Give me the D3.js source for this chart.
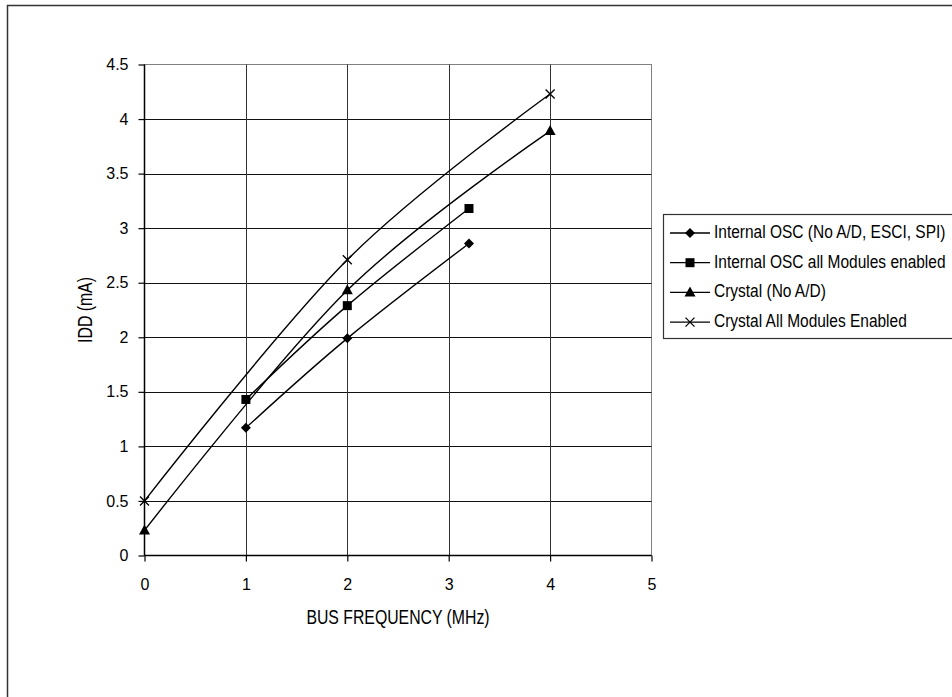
<!DOCTYPE html>
<html><head><meta charset="utf-8">
<script src="https://cdn.jsdelivr.net/npm/d3@7"></script>
<style>body{margin:0;background:#fff}svg{display:block}text{font-family:"Liberation Sans",Arial,sans-serif;fill:#000}</style>
</head><body><svg id="c" width="952" height="697"></svg>
<script>
const seriesNames = ["Internal OSC (No A/D, ESCI, SPI)", "Internal OSC all Modules enabled", "Crystal (No A/D)", "Crystal All Modules Enabled"];
const markers = ["diamond", "square", "triangle", "x"];
const xInternal = [1, 2, 3.2];
const xCrystal = [0, 2, 4];
const internalNoAD = [1.17, 1.99, 2.86];
const internalAll = [1.43, 2.29, 3.18];
const crystalNoAD = [0.23, 2.43, 3.89];
const crystalAll = [0.5, 2.71, 4.23];
const xTicks = [0, 1, 2, 3, 4, 5];
const yTicks = [0, 0.5, 1, 1.5, 2, 2.5, 3, 3.5, 4, 4.5];
const xTitle = "BUS FREQUENCY (MHz)";
const yTitle = "IDD (mA)";

const series = [
  {name: seriesNames[0], marker: markers[0], xs: xInternal, ys: internalNoAD},
  {name: seriesNames[1], marker: markers[1], xs: xInternal, ys: internalAll},
  {name: seriesNames[2], marker: markers[2], xs: xCrystal, ys: crystalNoAD},
  {name: seriesNames[3], marker: markers[3], xs: xCrystal, ys: crystalAll}
];
const SQ = 0.82; // horizontal condensing of the narrow font

const svg = d3.select("#c");
svg.append("rect").attr("x", 7.5).attr("y", 5.5).attr("width", 1000).attr("height", 800)
  .attr("fill", "none").attr("stroke", "#333").attr("stroke-width", 1.5);

const L = 144.5, R = 651.5, T = 64.5, B = 555.5;
const x = d3.scaleLinear().domain([0, 5]).range([L, R]);
const y = d3.scaleLinear().domain([0, 4.5]).range([B, T]);

svg.append("rect").attr("x", L).attr("y", T).attr("width", R - L).attr("height", B - T)
  .attr("fill", "none").attr("stroke", "#808080").attr("stroke-width", 1);

const g = svg.append("g");
g.selectAll(".hg").data(yTicks.filter(d => d > 0 && d < 4.5)).join("line")
  .attr("x1", L).attr("x2", R).attr("y1", d => Math.round(y(d)) + 0.5).attr("y2", d => Math.round(y(d)) + 0.5)
  .attr("stroke", "#111").attr("stroke-width", 1);
g.selectAll(".vg").data(xTicks.filter(d => d > 0 && d < 5)).join("line")
  .attr("y1", T).attr("y2", B).attr("x1", d => Math.round(x(d)) + 0.5).attr("x2", d => Math.round(x(d)) + 0.5)
  .attr("stroke", "#333").attr("stroke-width", 1);

const yAxis = d3.axisLeft(y).tickValues(yTicks).tickSize(6).tickPadding(10).tickFormat(d3.format("~g"));
const xAxis = d3.axisBottom(x).tickValues(xTicks).tickSize(6).tickPadding(17).tickFormat(d3.format("~g"));
const ya = svg.append("g").attr("transform", `translate(${L},0)`).call(yAxis);
const xa = svg.append("g").attr("transform", `translate(0,${B})`).call(xAxis);
[ya, xa].forEach(a => {
  a.attr("font-size", 16).attr("font-family", '"Liberation Sans",Arial,sans-serif');
  a.select(".domain").attr("stroke", "#000").attr("stroke-width", 1.5);
  a.selectAll(".tick line").attr("stroke", "#000").attr("stroke-width", 1.2);
  a.selectAll("text").attr("font-size", 16).attr("fill", "#000");
});
xa.select(".domain").attr("d", `M${L},0H${R}`);
ya.select(".domain").attr("d", `M0,${B}V${T}`);

svg.append("text").attr("transform", `translate(${(L + R) / 2},619) scale(${SQ},1)`).attr("text-anchor", "middle")
  .attr("dominant-baseline", "middle").attr("font-size", 19.3).text(xTitle);
svg.append("text").attr("transform", `translate(87,${(T + B) / 2}) rotate(-90) scale(${SQ},1)`).attr("text-anchor", "middle")
  .attr("dominant-baseline", "middle").attr("font-size", 19.3).text(yTitle);

function drawMarker(sel, type, cx, cy) {
  if (type === "diamond") {
    sel.append("path").attr("d", `M${cx},${cy - 5}L${cx + 5},${cy}L${cx},${cy + 5}L${cx - 5},${cy}Z`).attr("fill", "#000");
  } else if (type === "square") {
    sel.append("rect").attr("x", cx - 4.5).attr("y", cy - 4.5).attr("width", 9).attr("height", 9).attr("fill", "#000");
  } else if (type === "triangle") {
    sel.append("path").attr("d", `M${cx},${cy - 6}L${cx + 5.5},${cy + 4}L${cx - 5.5},${cy + 4}Z`).attr("fill", "#000");
  } else {
    sel.append("path").attr("d", `M${cx - 4.5},${cy - 4.5}L${cx + 4.5},${cy + 4.5}M${cx + 4.5},${cy - 4.5}L${cx - 4.5},${cy + 4.5}`)
      .attr("stroke", "#000").attr("stroke-width", 1.3).attr("fill", "none");
  }
}

const line = d3.line().x(d => x(d[0])).y(d => y(d[1])).curve(d3.curveCardinal.tension(0));
const sg = svg.append("g");
series.forEach(s => {
  const pts = s.xs.map((v, i) => [v, s.ys[i]]);
  sg.append("path").attr("d", line(pts)).attr("fill", "none").attr("stroke", "#000").attr("stroke-width", 1.4);
  pts.forEach(p => drawMarker(sg, s.marker, x(p[0]), y(p[1])));
});

const lg = svg.append("g");
lg.append("rect").attr("x", 663.5).attr("y", 214.5).attr("width", 400).attr("height", 124)
  .attr("fill", "#fff").attr("stroke", "#333").attr("stroke-width", 1.2);
series.forEach((s, i) => {
  const cy = 233 + i * 29.7;
  lg.append("line").attr("x1", 670).attr("x2", 710).attr("y1", cy).attr("y2", cy).attr("stroke", "#000").attr("stroke-width", 1.3);
  drawMarker(lg, s.marker, 690, cy);
  lg.append("text").attr("transform", `translate(714,${cy}) scale(${SQ},1)`).attr("dominant-baseline", "middle")
    .attr("font-size", 18.9).text(s.name);
});
</script></body></html>
